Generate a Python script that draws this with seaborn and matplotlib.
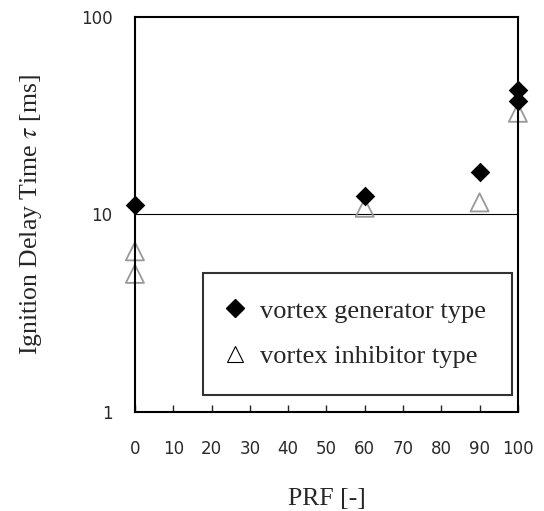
import numpy as np
import pandas as pd
import seaborn as sns
import matplotlib.pyplot as plt
from matplotlib.lines import Line2D

# Data
gen_prf = [0, 60, 90, 100, 100]
gen_tau = [11.2, 12.4, 16.3, 42.7, 37.3]
inh_prf = [0, 0, 60, 90, 100]
inh_tau = [6.5, 5.0, 10.8, 11.5, 32.7]
x_ticks = [0, 10, 20, 30, 40, 50, 60, 70, 80, 90, 100]
y_ticks = [1, 10, 100]

sns.set_style('white')
plt.rcParams['mathtext.fontset'] = 'stix'

fig = plt.figure(figsize=(5.44, 5.11), dpi=100)
ax = fig.add_axes([0.248, 0.194, 0.704, 0.773])

gen = pd.DataFrame({'PRF': gen_prf, 'tau': gen_tau})
inh = pd.DataFrame({'PRF': inh_prf, 'tau': inh_tau})

ax.axhline(10, color='black', lw=0.8, zorder=1)
sns.scatterplot(data=gen, x='PRF', y='tau', marker='D', s=100, color='black',
                edgecolor='black', linewidth=0, ax=ax, clip_on=False, zorder=3)
sns.scatterplot(data=inh, x='PRF', y='tau', marker='^', s=170, facecolor='none',
                edgecolor='#999999', linewidth=1.3, ax=ax, clip_on=False, zorder=2)

ax.set_yscale('log')
ax.set_xlim(0, 100)
ax.set_ylim(1, 100)
ax.set_xticks(x_ticks)
ax.set_xticklabels([str(t) for t in x_ticks], family='DejaVu Sans', fontsize=12, color='#2a2a2a')
ax.set_yticks(y_ticks)
ax.set_yticklabels([str(t) for t in y_ticks], family='DejaVu Sans', fontsize=12, color='#2a2a2a')
ax.yaxis.set_minor_locator(plt.NullLocator())
ax.tick_params(axis='x', direction='in', length=5, width=1, pad=20, bottom=True)
ax.tick_params(axis='y', length=0, pad=16)

for sp in ax.spines.values():
    sp.set_linewidth(1.5)
    sp.set_color('black')
    sp.set_zorder(4)

ax.set_xlabel('PRF [-]', family='Liberation Serif', fontsize=18.5, labelpad=22)
ax.set_ylabel(r'Ignition Delay Time $\tau$ [ms]', family='Liberation Serif', fontsize=18.5, labelpad=27)

handles = [
    Line2D([], [], marker='D', color='black', markersize=9, linestyle='none'),
    Line2D([], [], marker='^', markerfacecolor='none', markeredgecolor='black',
           markeredgewidth=0.8, markersize=12, linestyle='none'),
]
leg = ax.legend(handles, ['vortex generator type', 'vortex inhibitor type'],
                loc='lower left', bbox_to_anchor=(0.178, 0.043, 0.806, 0.306),
                mode='expand', borderaxespad=0, frameon=True, fancybox=False,
                borderpad=1.0, labelspacing=0.85, handletextpad=0.75, handlelength=0.4,
                prop={'family': 'Liberation Serif', 'size': 19})
leg.get_frame().set_edgecolor('black')
leg.get_frame().set_linewidth(1.5)

fig.savefig('out.png', dpi=100)
